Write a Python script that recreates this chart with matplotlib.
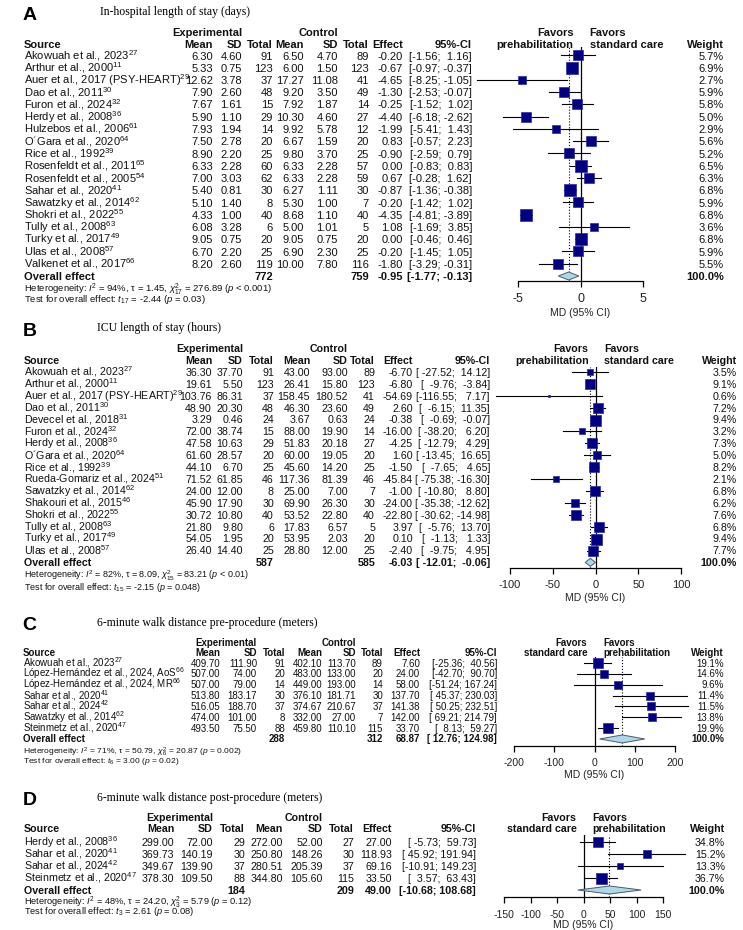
import numpy as np
import matplotlib.pyplot as plt
from matplotlib.patches import Polygon

plt.rcParams['font.family'] = ['Liberation Sans', 'DejaVu Sans']
plt.rcParams['mathtext.fontset'] = 'custom'
plt.rcParams['mathtext.rm'] = 'Liberation Sans'
plt.rcParams['mathtext.it'] = 'Liberation Sans:italic'
plt.rcParams['mathtext.bf'] = 'Liberation Sans:bold'
plt.rcParams['axes.unicode_minus'] = False

W, H, DPI = 743, 930, 100

# ---------------- A: in-hospital length of stay (days)
a_names = ['Akowuah et al., 2023', 'Arthur et al., 2000', 'Auer et al., 2017 (PSY-HEART)',
           'Dao et al., 2011', 'Furon et al., 2024', 'Herdy et al., 2008', 'Hulzebos et al., 2006',
           'O´Gara et al., 2020', 'Rice et al., 1992', 'Rosenfeldt et al., 2011',
           'Rosenfeldt et al., 2005', 'Sahar et al., 2020', 'Sawatzky et al., 2014',
           'Shokri et al., 2022', 'Tully et al., 2008', 'Turky et al., 2017', 'Ulas et al., 2008',
           'Valkenet et al., 2017']
a_refs = [27, 11, 29, 30, 32, 36, 61, 64, 39, 65, 54, 41, 62, 55, 63, 49, 57, 66]
a_mean_e = [6.30, 5.33, 12.62, 7.90, 7.67, 5.90, 7.93, 7.50, 8.90, 6.33, 7.00, 5.40, 5.10, 4.33, 6.08, 9.05, 6.70, 8.20]
a_sd_e = [4.60, 0.75, 3.78, 2.60, 1.61, 1.10, 1.94, 2.78, 2.20, 2.28, 3.03, 0.81, 1.40, 1.00, 3.28, 0.75, 2.20, 2.60]
a_n_e = [91, 123, 37, 48, 15, 29, 14, 20, 25, 60, 62, 30, 8, 40, 6, 20, 25, 119]
a_mean_c = [6.50, 6.00, 17.27, 9.20, 7.92, 10.30, 9.92, 6.67, 9.80, 6.33, 6.33, 6.27, 5.30, 8.68, 5.00, 9.05, 6.90, 10.00]
a_sd_c = [4.70, 1.50, 11.08, 3.50, 1.87, 4.60, 5.78, 1.59, 3.70, 2.28, 2.28, 1.11, 1.00, 1.10, 1.01, 0.75, 2.30, 7.80]
a_n_c = [89, 123, 41, 49, 14, 27, 12, 20, 25, 57, 59, 30, 7, 40, 5, 20, 25, 116]
a_eff = [-0.20, -0.67, -4.65, -1.30, -0.25, -4.40, -1.99, 0.83, -0.90, 0.00, 0.67, -0.87, -0.20, -4.35, 1.08, 0.00, -0.20, -1.80]
a_lo = [-1.56, -0.97, -8.25, -2.53, -1.52, -6.18, -5.41, -0.57, -2.59, -0.83, -0.28, -1.36, -1.42, -4.81, -1.69, -0.46, -1.45, -3.29]
a_hi = [1.16, -0.37, -1.05, -0.07, 1.02, -2.62, 1.43, 2.23, 0.79, 0.83, 1.62, -0.38, 1.02, -3.89, 3.85, 0.46, 1.05, -0.31]
a_w = [5.7, 6.9, 2.7, 5.9, 5.8, 5.0, 2.9, 5.6, 5.2, 6.5, 6.3, 6.8, 5.9, 6.8, 3.6, 6.8, 5.9, 5.5]
a_overall = dict(n_e=772, n_c=759, eff=-0.95, lo=-1.77, hi=-0.13)
a_stats = dict(i2=94, tau=1.45, chi=276.89, df=17, p_het='< 0.001', t=-2.44, p_t='= 0.03')

# ---------------- B: ICU length of stay (hours)
b_names = ['Akowuah et al., 2023', 'Arthur et al., 2000', 'Auer et al., 2017 (PSY-HEART)',
           'Dao et al., 2011', 'Devecel et al., 2018', 'Furon et al., 2024', 'Herdy et al., 2008',
           'O´Gara et al., 2020', 'Rice et al., 1992', 'Rueda-Gomariz et al., 2024',
           'Sawatzky et al., 2014', 'Shakouri et al., 2015', 'Shokri et al., 2022',
           'Tully et al., 2008', 'Turky et al., 2017', 'Ulas et al., 2008']
b_refs = [27, 11, 29, 30, 31, 32, 36, 64, 39, 51, 62, 46, 55, 63, 49, 57]
b_mean_e = [36.30, 19.61, 103.76, 48.90, 3.29, 72.00, 47.58, 61.60, 44.10, 71.52, 24.00, 45.90, 30.72, 21.80, 54.05, 26.40]
b_sd_e = [37.70, 5.50, 86.31, 20.30, 0.46, 38.74, 10.63, 28.57, 6.70, 61.85, 12.00, 17.90, 10.80, 9.80, 1.95, 14.40]
b_n_e = [91, 123, 37, 48, 24, 15, 29, 20, 25, 46, 8, 30, 40, 6, 20, 25]
b_mean_c = [43.00, 26.41, 158.45, 46.30, 3.67, 88.00, 51.83, 60.00, 45.60, 117.36, 25.00, 69.90, 53.52, 17.83, 53.95, 28.80]
b_sd_c = [93.00, 15.80, 180.52, 23.60, 0.63, 19.90, 20.18, 19.05, 14.20, 81.39, 7.00, 26.30, 22.80, 6.57, 2.03, 12.00]
b_n_c = [89, 123, 41, 49, 24, 14, 27, 20, 25, 46, 7, 30, 40, 5, 20, 25]
b_eff = [-6.70, -6.80, -54.69, 2.60, -0.38, -16.00, -4.25, 1.60, -1.50, -45.84, -1.00, -24.00, -22.80, 3.97, 0.10, -2.40]
b_lo = [-27.52, -9.76, -116.55, -6.15, -0.69, -38.20, -12.79, -13.45, -7.65, -75.38, -10.80, -35.38, -30.62, -5.76, -1.13, -9.75]
b_hi = [14.12, -3.84, 7.17, 11.35, -0.07, 6.20, 4.29, 16.65, 4.65, -16.30, 8.80, -12.62, -14.98, 13.70, 1.33, 4.95]
b_w = [3.5, 9.1, 0.6, 7.2, 9.4, 3.2, 7.3, 5.0, 8.2, 2.1, 6.8, 6.2, 7.6, 6.8, 9.4, 7.7]
b_overall = dict(n_e=587, n_c=585, eff=-6.03, lo=-12.01, hi=-0.06)
b_stats = dict(i2=82, tau=8.09, chi=83.21, df=15, p_het='< 0.01', t=-2.15, p_t='= 0.048')

# ---------------- C: 6-minute walk distance pre-procedure (meters)
c_names = ['Akowuah et al., 2023', 'López-Hernández et al., 2024, AoS',
           'López-Hernández et al., 2024, MR', 'Sahar et al., 2020', 'Sahar et al., 2024',
           'Sawatzky et al., 2014', 'Steinmetz et al., 2020']
c_refs = [27, 66, 66, 41, 42, 62, 47]
c_mean_e = [409.70, 507.00, 507.00, 513.80, 516.05, 474.00, 493.50]
c_sd_e = [111.90, 74.00, 79.00, 183.17, 188.70, 101.00, 75.50]
c_n_e = [91, 20, 14, 30, 37, 8, 88]
c_mean_c = [402.10, 483.00, 449.00, 376.10, 374.67, 332.00, 459.80]
c_sd_c = [113.70, 133.00, 193.00, 181.71, 210.67, 27.00, 110.10]
c_n_c = [89, 20, 14, 30, 37, 7, 115]
c_eff = [7.60, 24.00, 58.00, 137.70, 141.38, 142.00, 33.70]
c_lo = [-25.36, -42.70, -51.24, 45.37, 50.25, 69.21, 8.13]
c_hi = [40.56, 90.70, 167.24, 230.03, 232.51, 214.79, 59.27]
c_w = [19.1, 14.6, 9.6, 11.4, 11.5, 13.8, 19.9]
c_overall = dict(n_e=288, n_c=312, eff=68.87, lo=12.76, hi=124.98)
c_stats = dict(i2=71, tau=50.79, chi=20.87, df=6, p_het='= 0.002', t=3.00, p_t='= 0.02')

# ---------------- D: 6-minute walk distance post-procedure (meters)
d_names = ['Herdy et al., 2008', 'Sahar et al., 2020', 'Sahar et al., 2024', 'Steinmetz et al., 2020']
d_refs = [36, 41, 42, 47]
d_mean_e = [299.00, 369.73, 349.67, 378.30]
d_sd_e = [72.00, 140.19, 139.90, 109.50]
d_n_e = [29, 30, 37, 88]
d_mean_c = [272.00, 250.80, 280.51, 344.80]
d_sd_c = [52.00, 148.26, 205.39, 105.60]
d_n_c = [27, 30, 37, 115]
d_eff = [27.00, 118.93, 69.16, 33.50]
d_lo = [-5.73, 45.92, -10.91, 3.57]
d_hi = [59.73, 191.94, 149.23, 63.43]
d_w = [34.8, 15.2, 13.3, 36.7]
d_overall = dict(n_e=184, n_c=209, eff=49.00, lo=-10.68, hi=108.68)
d_stats = dict(i2=48, tau=24.20, chi=5.79, df=3, p_het='= 0.12', t=2.61, p_t='= 0.08')


def pack(names, refs, me, se, ne, mc, sc, nc, eff, lo, hi, w, overall, stats):
    return dict(names=names, refs=refs, me=me, se=se, ne=ne, mc=mc, sc=sc, nc=nc,
                eff=eff, lo=lo, hi=hi, w=w, overall=overall, stats=stats)


panels = [
    (pack(a_names, a_refs, a_mean_e, a_sd_e, a_n_e, a_mean_c, a_sd_c, a_n_c, a_eff, a_lo, a_hi, a_w, a_overall, a_stats),
     dict(letter='A', title='In-hospital length of stay (days)', letter_y=15, title_y=12,
          h1=32, h2=43.5, y0=55.5, dy=12.25, fs=8, fs_het=6.8, het_y=(288, 299),
          cols=(24, 213, 242, 273, 304, 338, 369, 403, 472, 724),
          px=(518, 643), lim=(-5, 5), ticks=[-5, 0, 5], top=47, axis_y=281, tick_fs=9,
          xlab_y=313, favors=('prehabilitation', 'standard care'), smax=11.5)),
    (pack(b_names, b_refs, b_mean_e, b_sd_e, b_n_e, b_mean_c, b_sd_c, b_n_c, b_eff, b_lo, b_hi, b_w, b_overall, b_stats),
     dict(letter='B', title='ICU length of stay (hours)', letter_y=331, title_y=328,
          h1=348, h2=360, y0=372, dy=11.9, fs=7.7, fs_het=6.5, het_y=(575.5, 586.5),
          cols=(24, 212, 243, 274, 310, 348, 375, 413, 490, 737),
          px=(510, 681), lim=(-100, 100), ticks=[-100, -50, 0, 50, 100], top=367, axis_y=568,
          tick_fs=8, xlab_y=598, favors=('prehabilitation', 'standard care'), smax=11)),
    (pack(c_names, c_refs, c_mean_e, c_sd_e, c_n_e, c_mean_c, c_sd_c, c_n_c, c_eff, c_lo, c_hi, c_w, c_overall, c_stats),
     dict(letter='C', title='6-minute walk distance pre-procedure (meters)', letter_y=625, title_y=623,
          h1=642, h2=652, y0=663, dy=10.85, fs=7, fs_het=6.1, het_y=(751, 759.5),
          cols=(23, 220, 257, 285, 322, 356, 383, 420, 497, 724),
          px=(514, 675), lim=(-200, 200), ticks=[-200, -100, 0, 100, 200], top=657, axis_y=746,
          tick_fs=7.5, xlab_y=775, favors=('standard care', 'prehabilitation'), smax=10.5)),
    (pack(d_names, d_refs, d_mean_e, d_sd_e, d_n_e, d_mean_c, d_sd_c, d_n_c, d_eff, d_lo, d_hi, d_w, d_overall, d_stats),
     dict(letter='D', title='6-minute walk distance post-procedure (meters)', letter_y=800, title_y=798,
          h1=817, h2=828.5, y0=842, dy=12.0, fs=7.7, fs_het=6.7, het_y=(901.5, 911),
          cols=(24, 174, 213, 245, 283, 323, 354, 392, 476, 725),
          px=(504, 663), lim=(-150, 150), ticks=[-150, -100, -50, 0, 50, 100, 150], top=835,
          axis_y=897, tick_fs=7.5, xlab_y=925, favors=('standard care', 'prehabilitation'), smax=11)),
]

fig = plt.figure(figsize=(W / DPI, H / DPI), dpi=DPI)
bg = fig.add_axes([0, 0, 1, 1])
bg.set_xlim(0, W)
bg.set_ylim(H, 0)
bg.axis('off')


def txt(x, y, s, fs, ha='right', bold=False, **kw):
    # y is the visual centre of the row, in pixels from the top
    bg.text(x, y + 0.36 * fs * DPI / 72, s, fontsize=fs, ha=ha, va='baseline',
            fontweight='bold' if bold else 'normal', color='#111111', **kw)


def ci_strings(lo, hi):
    los = [f'{v:.2f}' for v in lo]
    his = [f'{v:.2f}' for v in hi]
    wl = max(map(len, los))
    wh = max(map(len, his))
    return ['[' + a.rjust(wl) + '; ' + b.rjust(wh) + ']' for a, b in zip(los, his)]


def draw_panel(d, L):
    fs = L['fs']
    x_name, x_me, x_se, x_ne, x_mc, x_sc, x_nc, x_eff, x_ci, x_w = L['cols']
    n = len(d['names'])
    ov = d['overall']
    rows = [L['y0'] + i * L['dy'] for i in range(n + 1)]

    bg.text(x_name - 1, L['letter_y'], L['letter'], fontsize=14, fontweight='bold', va='center')
    bg.text(97 if L['letter'] != 'A' else 100, L['title_y'], L['title'], fontsize=8.5,
            family='Liberation Serif', va='center')

    # headers
    txt(x_se, L['h1'], 'Experimental', fs, bold=True)
    txt(x_sc, L['h1'], 'Control', fs, bold=True)
    txt(x_name, L['h2'], 'Source', fs, ha='left', bold=True)
    for x, s in [(x_me, 'Mean'), (x_se, 'SD'), (x_ne, 'Total'), (x_mc, 'Mean'),
                 (x_sc, 'SD'), (x_nc, 'Total'), (x_eff, 'Effect'), (x_ci, '95%-CI'),
                 (x_w, 'Weight')]:
        txt(x, L['h2'], s, fs, bold=True)

    p0, p1 = L['px']
    l0, l1 = L['lim']
    zero_px = p0 + (0 - l0) / (l1 - l0) * (p1 - p0)
    fl, fr = L['favors']
    txt(zero_px - 7, L['h1'], 'Favors', fs, bold=True)
    txt(zero_px - 7, L['h2'], fl, fs, bold=True)
    txt(zero_px + 9, L['h1'], 'Favors', fs, ha='left', bold=True)
    txt(zero_px + 9, L['h2'], fr, fs, ha='left', bold=True)

    cis = ci_strings(d['lo'] + [ov['lo']], d['hi'] + [ov['hi']])
    for i in range(n):
        y = rows[i]
        txt(x_name, y, d['names'][i] + '$^{%d}$' % d['refs'][i], fs, ha='left')
        txt(x_me, y, f"{d['me'][i]:.2f}", fs)
        txt(x_se, y, f"{d['se'][i]:.2f}", fs)
        txt(x_ne, y, f"{d['ne'][i]}", fs)
        txt(x_mc, y, f"{d['mc'][i]:.2f}", fs)
        txt(x_sc, y, f"{d['sc'][i]:.2f}", fs)
        txt(x_nc, y, f"{d['nc'][i]}", fs)
        txt(x_eff, y, f"{d['eff'][i]:.2f}", fs)
        txt(x_ci, y, cis[i], fs)
        txt(x_w, y, f"{d['w'][i]:.1f}%", fs)
    y = rows[n]
    txt(x_name, y, 'Overall effect', fs, ha='left', bold=True)
    txt(x_ne, y, f"{ov['n_e']}", fs, bold=True)
    txt(x_nc, y, f"{ov['n_c']}", fs, bold=True)
    txt(x_eff, y, f"{ov['eff']:.2f}", fs, bold=True)
    txt(x_ci, y, cis[n], fs, bold=True)
    txt(x_w, y, '100.0%', fs, bold=True)

    st = d['stats']
    het = ('Heterogeneity: $I^2$ = %d%%, τ = %.2f, $\\chi^2_{%d}$ = %.2f ($p$ %s)'
           % (st['i2'], st['tau'], st['df'], st['chi'], st['p_het']))
    test = 'Test for overall effect: $t_{%d}$ = %.2f ($p$ %s)' % (st['df'], st['t'], st['p_t'])
    txt(x_name, L['het_y'][0], het, L['fs_het'], ha='left')
    txt(x_name, L['het_y'][1], test, L['fs_het'], ha='left')

    # forest axes
    top, bot = L['top'], L['axis_y']
    ax = fig.add_axes([p0 / W, 1 - bot / H, (p1 - p0) / W, (bot - top) / H])
    ax.set_facecolor('none')
    ax.set_xlim(l0, l1)
    ax.set_ylim((bot - L['y0']) / L['dy'], (top - L['y0']) / L['dy'])
    for s in ['left', 'right', 'top']:
        ax.spines[s].set_visible(False)
    ax.spines['bottom'].set_linewidth(0.9)
    ax.set_yticks([])
    ax.set_xticks(L['ticks'])
    ax.set_xticklabels([str(t) for t in L['ticks']])
    ax.tick_params(axis='x', direction='out', length=4, width=0.9, pad=5,
                   labelsize=L['tick_fs'], labelcolor='#222222')

    ax.axvline(0, color='black', lw=0.9)
    ax.axvline(ov['eff'], color='black', lw=0.8, ls=':')
    wmax = max(d['w'])
    for i in range(n):
        ax.plot([d['lo'][i], d['hi'][i]], [i, i], color='black', lw=0.8, clip_on=False, zorder=2)
        side = L['smax'] * np.sqrt(d['w'][i] / wmax)
        ax.plot(d['eff'][i], i, marker='s', ms=side * 72 / DPI, color='#000080',
                mec='#2a2aa0', mew=0.5, clip_on=False, zorder=3)
    h = 4.0 / L['dy']
    diamond = Polygon([(ov['lo'], n), (ov['eff'], n - h), (ov['hi'], n), (ov['eff'], n + h)],
                      closed=True, facecolor='#add8e6', edgecolor='#4a5a6a', lw=0.7,
                      clip_on=False, zorder=3)
    ax.add_patch(diamond)

    bg.text((p0 + p1) / 2, L['xlab_y'], 'MD (95% CI)', fontsize=7.5, ha='center',
            va='center', color='#222222')


for d, L in panels:
    draw_panel(d, L)

fig.savefig('out.png', dpi=DPI)
